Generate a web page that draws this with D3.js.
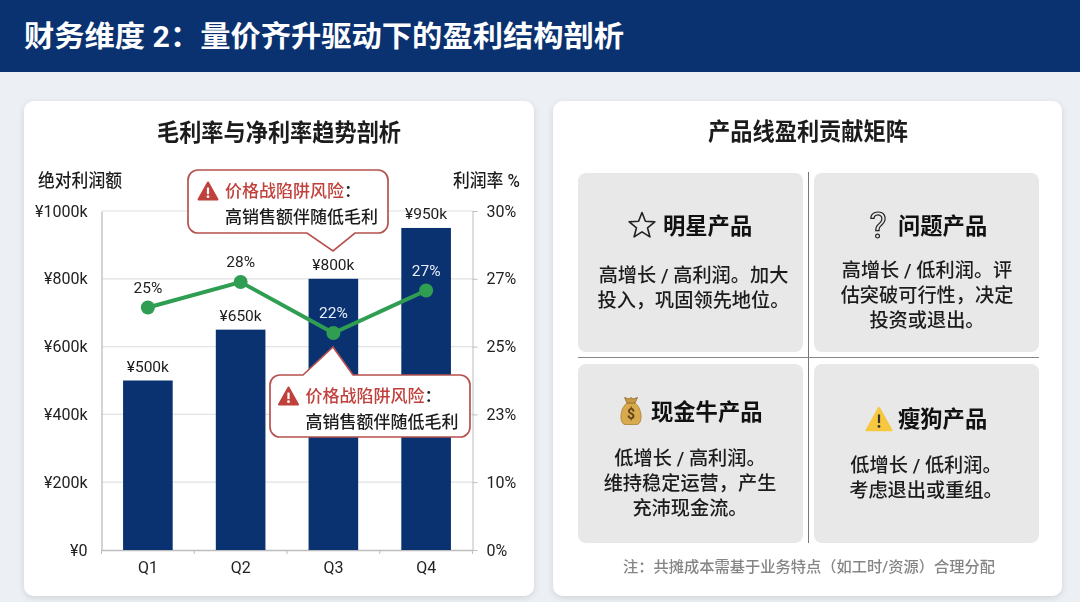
<!DOCTYPE html>
<html>
<head>
<meta charset="utf-8">
<script src="https://cdn.jsdelivr.net/npm/d3@7"></script>
<style>
  html, body { margin: 0; padding: 0; background: #ecf0f4; }
  svg { display: block; filter: blur(0.35px); }
  text { font-family: Roboto, "Noto Sans CJK SC", sans-serif; fill: #1c1c1c; }
  .axis path, .axis line { stroke: #bdbdbd; }
  .axis text { font-size: 16px; fill: #222; }
</style>
</head>
<body>
<svg id="chart" width="1080" height="602"></svg>
<script>
(function () {
  const quarters = ["Q1", "Q2", "Q3", "Q4"];
  const profit = [500, 650, 800, 950];
  const margin = [25, 28, 22, 27];
  const profitTicks = [0, 200, 400, 600, 800, 1000];
  const rateTickLabels = ["0%", "10%", "23%", "25%", "27%", "30%"];
  const calloutTitle = "价格战陷阱风险";
  const calloutBody = "高销售额伴随低毛利";
  const matrixTitles = ["明星产品", "问题产品", "现金牛产品", "瘦狗产品"];
  const matrixBodies = [
    ["高增长 / 高利润。加大", "投入，巩固领先地位。"],
    ["高增长 / 低利润。评", "估突破可行性，决定", "投资或退出。"],
    ["低增长 / 高利润。", "维持稳定运营，产生", "充沛现金流。"],
    ["低增长 / 低利润。", "考虑退出或重组。"],
  ];

  const NAVY = "#0a3170";
  const GREEN = "#2f9e52";
  const RED = "#c0403c";

  const svg = d3.select("#chart");

  const defs = svg.append("defs");
  const shadow = defs.append("filter").attr("id", "cardShadow")
    .attr("x", "-5%").attr("y", "-5%").attr("width", "110%").attr("height", "110%");
  shadow.append("feDropShadow")
    .attr("dx", 0).attr("dy", 2).attr("stdDeviation", 3)
    .attr("flood-color", "#000").attr("flood-opacity", 0.12);

  function label(parent, x, y, str, size, opts) {
    const o = opts || {};
    const t = parent.append("text")
      .attr("x", x).attr("y", y)
      .attr("dy", "0.35em")
      .attr("text-anchor", o.anchor || "middle")
      .attr("font-size", size)
      .attr("font-weight", o.weight || 400)
      .style("fill", o.fill || null)
      .text(str);
    if (o.width) t.attr("textLength", o.width).attr("lengthAdjust", "spacingAndGlyphs");
    return t;
  }

  // header
  svg.append("rect").attr("width", 1080).attr("height", 72).attr("fill", NAVY);
  label(svg, 24, 37, "财务维度 2：量价齐升驱动下的盈利结构剖析", 29, {
    anchor: "start", weight: 700, fill: "#fff", width: 600,
  });

  // cards
  [[24, 510], [553, 509]].forEach(([x, w]) => {
    svg.append("rect")
      .attr("x", x).attr("y", 101).attr("width", w).attr("height", 495)
      .attr("rx", 10).attr("fill", "#fff")
      .attr("filter", "url(#cardShadow)");
  });
  label(svg, 279, 133, "毛利率与净利率趋势剖析", 24, { weight: 700, width: 244 });
  label(svg, 808, 132, "产品线盈利贡献矩阵", 24, { weight: 700, width: 200 });

  // left chart
  const plot = { left: 101.5, right: 472.5, top: 211, bottom: 550 };

  const x = d3.scaleBand().domain(quarters).range([plot.left, plot.right]).paddingInner(0.465).paddingOuter(0.2325);
  const y = d3.scaleLinear().domain([0, 1000]).range([plot.bottom, plot.top]);
  // the drawn line does not follow the printed right axis, it has its own scale
  const yRate = d3.scaleLinear().domain([-3.5, 36.35]).range([plot.bottom, plot.top]);

  label(svg, 80, 181, "绝对利润额", 18, { width: 84, weight: 500 });
  label(svg, 486.5, 181, "利润率 %", 18, { width: 67, weight: 500 });

  svg.append("g").selectAll("line")
    .data(profitTicks.slice(1))
    .join("line")
    .attr("x1", plot.left).attr("x2", plot.right)
    .attr("y1", (d) => y(d)).attr("y2", (d) => y(d))
    .attr("stroke", "#e2e2e2").attr("stroke-width", 1.2);

  const leftAxis = d3.axisLeft(y)
    .tickValues(profitTicks)
    .tickSize(0)
    .tickPadding(14)
    .tickFormat((d) => "¥" + (d === 0 ? "0" : d + "k"));
  const gLeft = svg.append("g").attr("class", "axis")
    .attr("transform", "translate(" + plot.left + ",0)").call(leftAxis);
  gLeft.select("path").attr("stroke-width", 1.3);

  const rightAxis = d3.axisRight(y)
    .tickValues(profitTicks)
    .tickSize(5)
    .tickSizeOuter(0)
    .tickPadding(9)
    .tickFormat((d, i) => rateTickLabels[i]);
  svg.append("g").attr("class", "axis")
    .attr("transform", "translate(" + plot.right + ",0)").call(rightAxis);

  const step = (plot.right - plot.left) / quarters.length;
  const edges = d3.range(quarters.length + 1).map((i) => plot.left + i * step);
  const gBottom = svg.append("g").attr("class", "axis")
    .attr("transform", "translate(0," + plot.bottom + ")")
    .call(d3.axisBottom(x).tickSize(0).tickPadding(12));
  gBottom.select("path").attr("stroke", "#a8a8a8").attr("stroke-width", 1.3);
  gBottom.selectAll(".edge").data(edges).join("line")
    .attr("class", "edge")
    .attr("stroke", "#a8a8a8")
    .attr("x1", (d) => d).attr("x2", (d) => d)
    .attr("y1", 0).attr("y2", 4);

  svg.append("g").selectAll("rect")
    .data(quarters)
    .join("rect")
    .attr("x", (d) => x(d))
    .attr("y", (d, i) => y(profit[i]))
    .attr("width", x.bandwidth())
    .attr("height", (d, i) => y(0) - y(profit[i]))
    .attr("fill", NAVY);

  quarters.forEach((q, i) => {
    label(svg, x(q) + x.bandwidth() / 2, y(profit[i]) - 14, "¥" + profit[i] + "k", 15.5);
  });

  const cx = (i) => x(quarters[i]) + x.bandwidth() / 2;
  const line = d3.line().x((d, i) => cx(i)).y((d) => yRate(d));
  svg.append("path").datum(margin)
    .attr("d", line)
    .attr("fill", "none")
    .attr("stroke", GREEN)
    .attr("stroke-width", 4);
  svg.append("g").selectAll("circle")
    .data(margin)
    .join("circle")
    .attr("cx", (d, i) => cx(i))
    .attr("cy", (d) => yRate(d))
    .attr("r", 7)
    .attr("fill", GREEN);
  margin.forEach((m, i) => {
    label(svg, cx(i), yRate(m) - 20, m + "%", 15.5, { fill: i >= 2 ? "#e8eef8" : "#222" });
  });

  function warnIcon(parent, px, py, w, fill, mark) {
    const h = w * 0.9;
    const g = parent.append("g").attr("transform", "translate(" + px + "," + py + ")");
    g.append("path")
      .attr("d", "M0," + (-h / 2) + "L" + (w / 2) + "," + (h / 2) + "L" + (-w / 2) + "," + (h / 2) + "Z")
      .attr("fill", fill).attr("stroke", fill).attr("stroke-width", 2).attr("stroke-linejoin", "round");
    g.append("rect").attr("x", -1.1).attr("y", -h * 0.2).attr("width", 2.2).attr("height", h * 0.38).attr("fill", mark);
    g.append("circle").attr("cx", 0).attr("cy", h * 0.33).attr("r", 1.4).attr("fill", mark);
  }

  function callout(bx, by, w, h, tipX, tipY, baseL, baseR, above, inset) {
    const r = 10;
    const p = d3.path();
    p.moveTo(bx + r, by);
    if (!above) {
      p.lineTo(baseL, by);
      p.lineTo(tipX, tipY);
      p.lineTo(baseR, by);
    }
    p.lineTo(bx + w - r, by);
    p.arcTo(bx + w, by, bx + w, by + r, r);
    p.lineTo(bx + w, by + h - r);
    p.arcTo(bx + w, by + h, bx + w - r, by + h, r);
    if (above) {
      p.lineTo(baseR, by + h);
      p.lineTo(tipX, tipY);
      p.lineTo(baseL, by + h);
    }
    p.lineTo(bx + r, by + h);
    p.arcTo(bx, by + h, bx, by + h - r, r);
    p.lineTo(bx, by + r);
    p.arcTo(bx, by, bx + r, by, r);
    p.closePath();
    svg.append("path").attr("d", p.toString())
      .attr("fill", "#fff").attr("stroke", "#b5524f").attr("stroke-width", 1.7);
    warnIcon(svg, bx + inset - 17, by + 21, 19, RED, "#fff");
    label(svg, bx + inset, by + 21, calloutTitle, 17, { anchor: "start", weight: 500, fill: RED });
    label(svg, bx + inset + 119, by + 21, "：", 17, { anchor: "start", weight: 500 });
    label(svg, bx + inset, by + 47, calloutBody, 17, { anchor: "start", weight: 500 });
  }
  callout(188, 170, 200, 63, 333, 251, 307, 355, true, 37);
  callout(270, 375, 200, 62, 333, 347, 303, 353, false, 35.5);

  // right matrix
  const cells = [
    { x: 578, y: 173, h: 179, cx: 693.5, ty: 226, lx: 663, by: 275, iconX: 642, iconY: 226 },
    { x: 814, y: 173, h: 179, cx: 927, ty: 226, lx: 898, by: 270, iconX: 878, iconY: 225 },
    { x: 578, y: 364, h: 179, cx: 690, ty: 412, lx: 651, by: 458, iconX: 631, iconY: 411 },
    { x: 814, y: 364, h: 179, cx: 926, ty: 419, lx: 898, by: 465, iconX: 879, iconY: 419 },
  ];

  cells.forEach((c, i) => {
    svg.append("rect").attr("x", c.x).attr("y", c.y).attr("width", 225).attr("height", c.h)
      .attr("rx", 8).attr("fill", "#e8e8e8");
    label(svg, c.lx, c.ty, matrixTitles[i], 22.3, { anchor: "start", weight: 700, fill: "#111" });
    matrixBodies[i].forEach((ln, j) => {
      label(svg, c.cx, c.by + j * 25, ln, 19.2, { weight: 500 });
    });
  });

  svg.append("line").attr("x1", 808.5).attr("x2", 808.5).attr("y1", 172).attr("y2", 543)
    .attr("stroke", "#777").attr("stroke-width", 1);
  svg.append("line").attr("x1", 578).attr("x2", 1039).attr("y1", 357.5).attr("y2", 357.5)
    .attr("stroke", "#888").attr("stroke-width", 1);

  // star icon
  const starPts = d3.range(10).map((i) => {
    const rad = i % 2 === 0 ? 13.5 : 5.8;
    const a = -Math.PI / 2 + i * Math.PI / 5;
    return [rad * Math.cos(a), rad * Math.sin(a)];
  });
  svg.append("path")
    .attr("transform", "translate(" + cells[0].iconX + "," + cells[0].iconY + ")")
    .attr("d", d3.line()(starPts) + "Z")
    .attr("fill", "none").attr("stroke", "#222").attr("stroke-width", 1.6).attr("stroke-linejoin", "round");

  // question mark icon, outlined glyph
  label(svg, cells[1].iconX, cells[1].iconY, "?", 36, { fill: "#e8e8e8" })
    .style("stroke", "#222").style("stroke-width", 1.2);

  // money bag icon
  const bag = svg.append("g").attr("transform", "translate(" + cells[2].iconX + "," + cells[2].iconY + ")");
  bag.append("path")
    .attr("d", "M-4,-8 C-12,-2 -11.5,13 -6,13.5 L6,13.5 C11.5,13 12,-2 4,-8 Z")
    .attr("fill", "#d9a94e").attr("stroke", "#a97f33").attr("stroke-width", 0.8);
  bag.append("path")
    .attr("d", "M-4,-8 L-6.5,-13.5 L-2,-12 L0,-13.5 L2,-12 L6.5,-13.5 L4,-8 Z")
    .attr("fill", "#c99a45").attr("stroke", "#8f6a2a").attr("stroke-width", 0.8);
  bag.append("text").attr("y", 3.5).attr("dy", "0.35em").attr("text-anchor", "middle")
    .attr("font-size", 14).attr("font-weight", 700).style("fill", "#5f4315").text("$");

  warnIcon(svg, cells[3].iconX, cells[3].iconY, 25, "#f7c83f", "#333");

  label(svg, 809, 567, "注：共摊成本需基于业务特点（如工时/资源）合理分配", 15, { fill: "#858585", width: 372, weight: 500 });
})();
</script>
</body>
</html>
